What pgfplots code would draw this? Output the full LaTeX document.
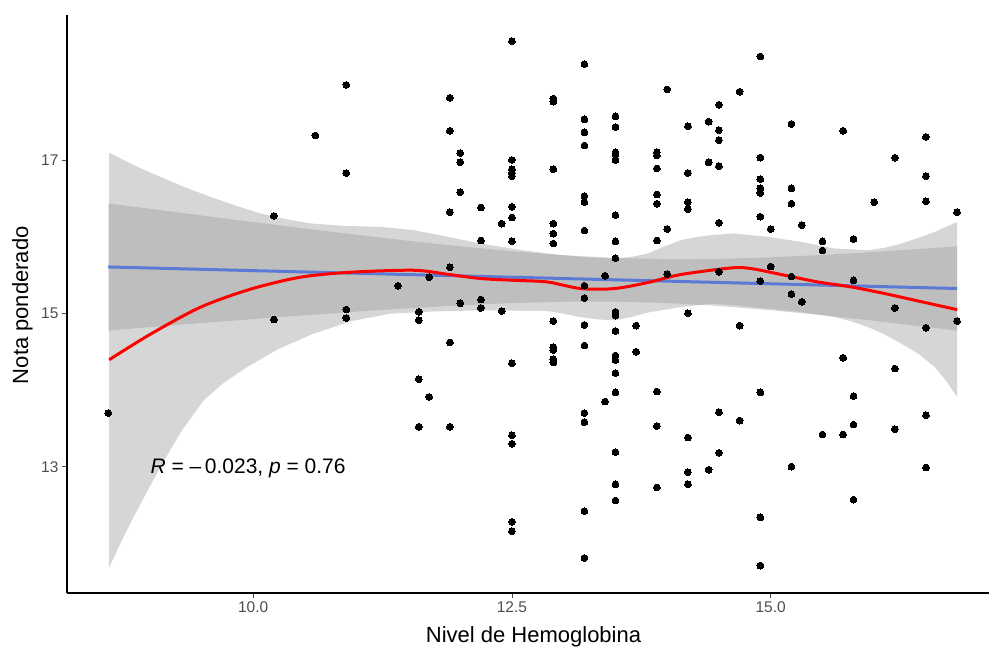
\documentclass[border=0pt]{standalone}
\usepackage{fontspec}
\setmainfont{Liberation Sans}
\usepackage{pgfplots}
\pgfplotsset{compat=1.18}
\definecolor{tickgrey}{RGB}{77,77,77}
\definecolor{band}{RGB}{153,153,153}
\definecolor{lmblue}{RGB}{51,102,255}
\begin{document}
\begin{tikzpicture}
\begin{axis}[
  at={(67pt,60pt)}, anchor=south west,
  scale only axis, width=922pt, height=578pt,
  xmin=8.201, xmax=17.109, ymin=11.353, ymax=18.891,
  axis lines=left, axis line style={-, line width=1.2pt, black},
  xtick={10,12.5,15}, xticklabels={10.0,12.5,15.0},
  ytick={13,15,17}, yticklabels={13,15,17},
  tick align=outside, major tick length=5pt,
  tick style={line width=0.9pt, color=tickgrey},
  ticklabel style={font=\fontsize{15.5}{15.5}\selectfont, text=tickgrey},
  /pgf/number format/assume math mode=true,
  xlabel={Nivel de Hemoglobina}, ylabel={Nota ponderado},
  label style={font=\fontsize{22}{22}\selectfont},
  xlabel style={at={(axis description cs:0.506,-0.0865)}, anchor=base},
  ylabel style={at={(axis description cs:-0.0423,0.498)}, anchor=base},
]
\addplot[only marks, mark=*, mark size=3.4pt, mark options={fill=black, draw=black, line width=0pt}] table {
x y
8.6 13.70
10.2 16.27
10.2 14.92
10.6 17.32
10.9 17.98
10.9 16.83
10.9 15.05
10.9 14.94
11.4 15.36
11.6 15.02
11.6 14.91
11.6 14.14
11.6 13.52
11.7 15.47
11.7 13.91
11.9 17.81
11.9 17.38
11.9 16.32
11.9 15.60
11.9 14.62
11.9 13.52
12.0 17.09
12.0 16.97
12.0 16.58
12.0 15.13
12.2 16.38
12.2 15.95
12.2 15.18
12.2 15.07
12.4 16.17
12.4 15.03
12.5 18.55
12.5 17.00
12.5 16.88
12.5 16.83
12.5 16.79
12.5 16.39
12.5 16.25
12.5 15.94
12.5 14.35
12.5 13.41
12.5 13.30
12.5 12.28
12.5 12.16
12.9 17.80
12.9 17.76
12.9 16.88
12.9 16.17
12.9 16.04
12.9 15.91
12.9 14.90
12.9 14.56
12.9 14.52
12.9 14.40
12.9 14.36
13.2 18.25
13.2 17.53
13.2 17.36
13.2 17.19
13.2 16.53
13.2 16.45
13.2 16.08
13.2 15.36
13.2 15.20
13.2 14.85
13.2 14.58
13.2 13.70
13.2 13.58
13.2 12.42
13.2 11.81
13.4 15.49
13.4 13.85
13.5 17.57
13.5 17.43
13.5 17.10
13.5 17.07
13.5 17.00
13.5 16.28
13.5 15.94
13.5 15.72
13.5 15.02
13.5 14.97
13.5 14.77
13.5 14.45
13.5 14.39
13.5 14.22
13.5 13.97
13.5 13.19
13.5 12.77
13.5 12.56
13.7 14.84
13.7 14.50
13.9 17.10
13.9 17.06
13.9 16.89
13.9 16.55
13.9 16.43
13.9 15.95
13.9 13.98
13.9 13.53
13.9 12.73
14.0 17.92
14.0 16.10
14.0 15.51
14.2 17.44
14.2 16.83
14.2 16.45
14.2 16.36
14.2 15.00
14.2 13.38
14.2 12.93
14.2 12.77
14.4 17.50
14.4 16.97
14.4 12.96
14.5 17.72
14.5 17.39
14.5 17.26
14.5 16.92
14.5 16.18
14.5 15.54
14.5 13.71
14.5 13.18
14.7 17.89
14.7 14.84
14.7 13.60
14.9 18.35
14.9 17.03
14.9 16.75
14.9 16.63
14.9 16.57
14.9 16.26
14.9 15.42
14.9 13.97
14.9 12.34
14.9 11.71
15.0 16.10
15.0 15.61
15.2 17.47
15.2 16.63
15.2 16.43
15.2 15.48
15.2 15.25
15.2 13.00
15.3 16.15
15.3 15.15
15.5 15.94
15.5 15.82
15.5 13.42
15.7 17.38
15.7 14.42
15.7 13.42
15.8 15.97
15.8 15.43
15.8 13.92
15.8 13.55
15.8 12.57
16.0 16.45
16.2 17.03
16.2 15.07
16.2 14.28
16.2 13.49
16.5 17.30
16.5 16.79
16.5 16.46
16.5 14.81
16.5 13.67
16.5 12.99
16.8 16.32
16.8 14.90
};
% linear model confidence band
\addplot[draw=none, fill=band, fill opacity=0.4] coordinates {
(8.6,16.434) (9.0,16.364) (9.5,16.277) (10.0,16.191) (10.5,16.107) (11.0,16.025)
(11.5,15.946) (12.0,15.874) (12.5,15.810) (13.0,15.758) (13.5,15.723) (14.0,15.706)
(14.5,15.710) (15.0,15.731) (15.5,15.762) (16.0,15.801) (16.5,15.845) (16.8,15.874)
(16.8,14.774) (16.5,14.823) (16.0,14.903) (15.5,14.976) (15.0,15.041) (14.5,15.096)
(14.0,15.134) (13.5,15.153) (13.0,15.152) (12.5,15.134) (12.0,15.104) (11.5,15.066)
(11.0,15.023) (10.5,14.975) (10.0,14.925) (9.5,14.873) (9.0,14.820) (8.6,14.776)
} -- cycle;
\addplot[lmblue, line width=3pt] coordinates {(8.6,15.605) (16.8,15.324)};
% loess confidence band
\addplot[draw=none, fill=band, fill opacity=0.4] coordinates {
(8.609,17.095) (8.850,16.930) (9.100,16.781) (9.340,16.645) (9.584,16.520) (9.830,16.405)
(10.068,16.303) (10.310,16.230) (10.552,16.173) (10.890,16.140) (11.229,16.128)
(11.549,16.085) (11.870,16.000) (12.197,15.911) (12.520,15.840) (12.843,15.780) (13.166,15.736)
(13.485,15.715) (13.650,15.735) (13.811,15.780) (13.970,15.870) (14.131,15.954) (14.280,15.995)
(14.422,16.020) (14.647,16.042) (14.973,15.997) (15.295,15.932) (15.615,15.846)
(15.941,15.824) (16.100,15.855) (16.263,15.911) (16.430,15.985) (16.586,16.063) (16.802,16.193)
(16.802,13.906) (16.700,14.110) (16.586,14.298) (16.430,14.470) (16.263,14.604) (16.100,14.725)
(15.941,14.821) (15.780,14.895) (15.615,14.952) (15.295,15.017)
(14.973,15.061) (14.700,15.100) (14.424,15.127) (14.120,15.080) (13.811,15.010) (13.650,14.950)
(13.488,14.910) (13.330,14.920) (13.166,14.950) (13.000,14.995) (12.843,15.030)
(12.197,15.039) (11.750,15.025) (11.326,14.996) (10.950,14.900) (10.584,14.735) (10.250,14.540)
(9.939,14.298) (9.720,14.100) (9.519,13.863) (9.300,13.450) (9.100,12.991)
(8.841,12.337) (8.720,12.010) (8.609,11.684)
} -- cycle;
\addplot[red, line width=3pt, smooth, tension=0.5] coordinates {
(8.609,14.395) (9.003,14.725) (9.487,15.078) (9.971,15.314) (10.455,15.471) (10.939,15.536)
(11.549,15.562) (11.875,15.510) (12.197,15.454) (12.520,15.431) (12.843,15.409) (13.166,15.323)
(13.488,15.323) (13.811,15.401) (14.131,15.506) (14.618,15.592) (14.811,15.584) (15.134,15.497)
(15.457,15.409) (15.780,15.344) (16.102,15.258) (16.425,15.161) (16.802,15.048)
};
\node[anchor=base west, font=\fontsize{21}{21}\selectfont] at (axis cs:8.975,12.914)
  {\textit{R} = –\,0.023, \textit{p} = 0.76};
\end{axis}
\pgfresetboundingbox
\useasboundingbox (0,0) rectangle (989pt,653pt);
\end{tikzpicture}
\end{document}
